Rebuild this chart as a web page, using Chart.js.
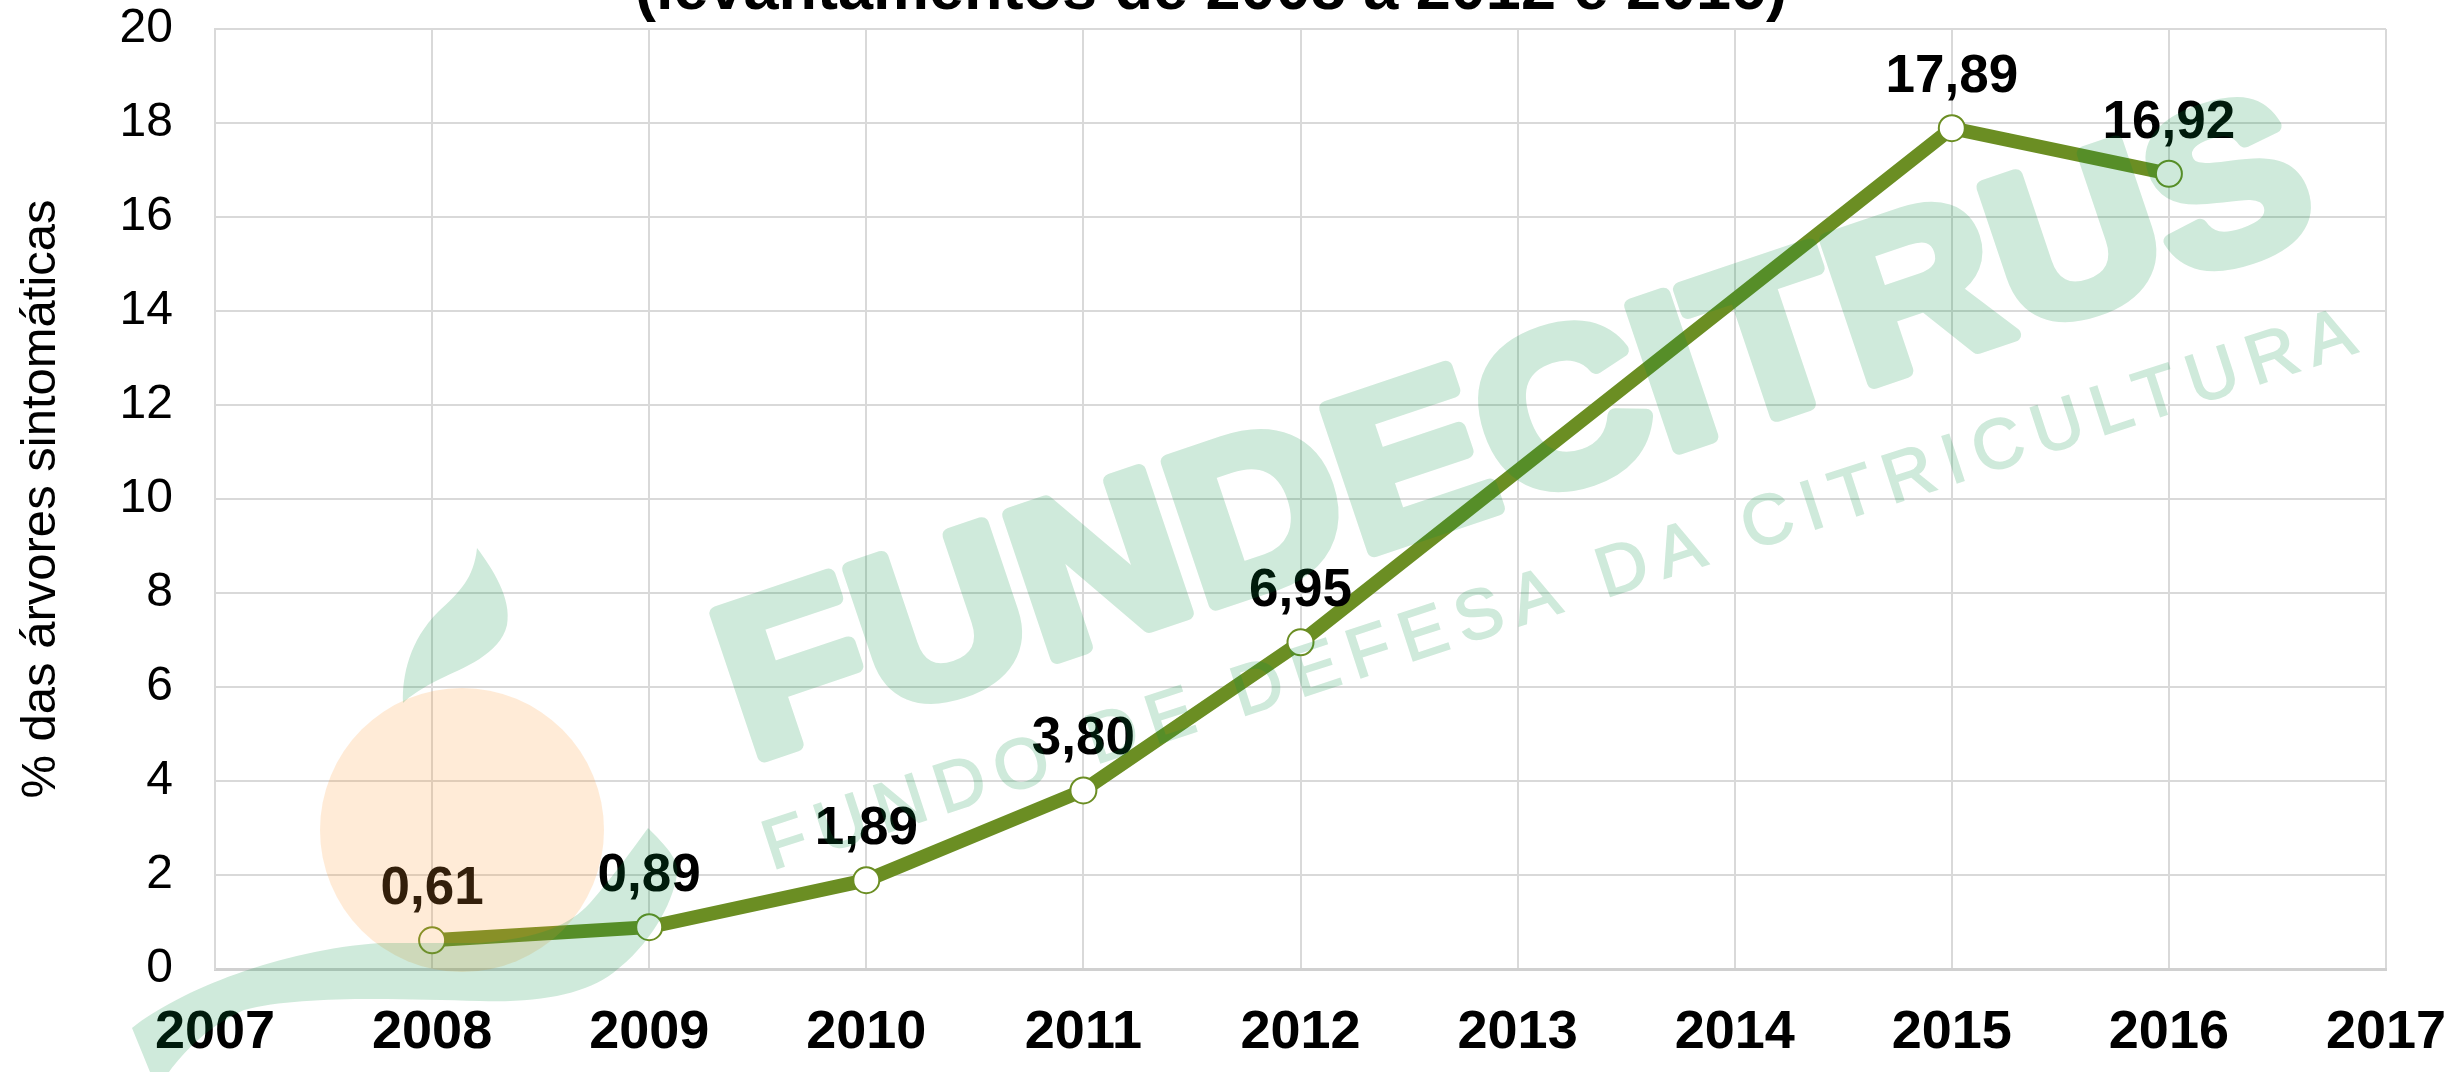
<!DOCTYPE html>
<html>
<head>
<meta charset="utf-8">
<script src="https://cdn.jsdelivr.net/npm/chart.js@4/dist/chart.umd.min.js"></script>
<style>
  html, body { margin: 0; padding: 0; background: #ffffff; }
  #wrap { width: 2458px; height: 1072px; position: relative; }
</style>
</head>
<body>
<div id="wrap"><canvas id="c" width="2458" height="1072"></canvas></div>
<script>
// ---- data ----
const years = ['2007', '2008', '2009', '2010', '2011', '2012', '2013', '2014', '2015', '2016', '2017'];
const symptomatic = [null, 0.61, 0.89, 1.89, 3.80, 6.95, null, null, 17.89, 16.92, null];
const yMin = 0;
const yMax = 20;
const yStep = 2;
const titleText = '(levantamentos de 2008 a 2012 e 2016)';
const yAxisTitle = '% das árvores sintomáticas';
const wmMain = 'FUNDECITRUS';
const wmSub = 'FUNDO DE DEFESA DA CITRICULTURA';

const FONT = '"Liberation Sans", Arial, sans-serif';

const valueLabels = {
  id: 'valueLabels',
  afterDatasetsDraw(chart) {
    const ctx = chart.ctx;
    const meta = chart.getDatasetMeta(0);
    const data = chart.data.datasets[0].data;
    ctx.save();
    ctx.font = 'bold 53px ' + FONT;
    ctx.fillStyle = '#000';
    ctx.textAlign = 'center';
    ctx.textBaseline = 'alphabetic';
    meta.data.forEach((pt, i) => {
      const v = data[i];
      if (v === null || v === undefined) return;
      ctx.fillText(v.toFixed(2).replace('.', ','), pt.x, pt.y - 36);
    });
    ctx.restore();
  }
};

function drawWatermarkShapes(g) {
  g.fillStyle = 'rgb(0,144,65)';
  g.strokeStyle = 'rgb(0,144,65)';
  // top leaf
  g.beginPath();
  g.moveTo(477, 548);
  g.bezierCurveTo(492, 568, 512, 598, 507, 625);
  g.bezierCurveTo(500, 655, 462, 668, 440, 679);
  g.bezierCurveTo(422, 688, 410, 696, 403, 703);
  g.bezierCurveTo(402, 675, 410, 640, 438, 612);
  g.bezierCurveTo(460, 592, 474, 578, 477, 548);
  g.closePath();
  g.fill();

  // bottom swoosh
  g.beginPath();
  g.moveTo(132, 1028);
  g.bezierCurveTo(180, 990, 280, 950, 380, 943);
  g.lineTo(480, 943);
  g.bezierCurveTo(540, 938, 570, 925, 590, 903);
  g.bezierCurveTo(612, 878, 632, 850, 648, 828);
  g.bezierCurveTo(665, 845, 680, 860, 677, 875);
  g.bezierCurveTo(672, 905, 650, 945, 613, 973);
  g.bezierCurveTo(585, 994, 540, 1003, 480, 1001);
  g.bezierCurveTo(400, 999, 300, 995, 244, 1010);
  g.bezierCurveTo(210, 1025, 185, 1050, 169, 1072);
  g.lineTo(150, 1072);
  g.closePath();
  g.fill();

  // big text
  g.save();
  g.translate(752, 766);
  g.rotate(-18.6 * Math.PI / 180);
  g.font = 'bold 218px ' + FONT;
  g.textAlign = 'left';
  g.textBaseline = 'alphabetic';
  const w = g.measureText(wmMain).width;
  g.scale(1660 / w, 1);
  g.lineJoin = 'round';
  g.lineWidth = 14;
  g.translate(0, -6);
  g.strokeText(wmMain, 0, 0);
  g.fillText(wmMain, 0, 0);
  g.restore();

  // sub text
  g.save();
  g.translate(772, 870);
  g.rotate(-18.1 * Math.PI / 180);
  g.font = '70px ' + FONT;
  g.textAlign = 'left';
  g.textBaseline = 'alphabetic';
  try { g.letterSpacing = '12px'; } catch (e) {}
  g.lineWidth = 2;
  g.strokeText(wmSub, 0, 0);
  g.fillText(wmSub, 0, 0);
  g.restore();
}

const titleAndWatermark = {
  id: 'titleAndWatermark',
  afterDraw(chart) {
    const ctx = chart.ctx;
    // title (cut at top)
    ctx.save();
    ctx.font = 'bold 63px ' + FONT;
    ctx.fillStyle = '#000';
    ctx.textAlign = 'center';
    ctx.textBaseline = 'alphabetic';
    ctx.fillText(titleText, 1211, 9);
    ctx.restore();

    // orange circle overlay
    ctx.save();
    ctx.fillStyle = 'rgba(255,153,56,0.2)';
    ctx.beginPath();
    ctx.arc(462, 830, 142, 0, Math.PI * 2);
    ctx.fill();
    ctx.restore();

    // green watermark overlay (opaque offscreen, composited with alpha)
    const off = document.createElement('canvas');
    off.width = chart.canvas.width;
    off.height = chart.canvas.height;
    drawWatermarkShapes(off.getContext('2d'));
    ctx.save();
    ctx.globalAlpha = 0.19;
    ctx.drawImage(off, 0, 0);
    ctx.restore();
  }
};

new Chart(document.getElementById('c'), {
  type: 'line',
  data: {
    labels: years,
    datasets: [{
      data: symptomatic,
      borderColor: '#6B8E23',
      borderWidth: 14,
      tension: 0,
      spanGaps: true,
      pointRadius: 13,
      pointHoverRadius: 13,
      pointBackgroundColor: '#ffffff',
      pointBorderColor: '#6B8E23',
      pointBorderWidth: 2,
      fill: false,
      clip: false
    }]
  },
  options: {
    responsive: false,
    animation: false,
    events: [],
    layout: { padding: { top: 29, right: 72, left: 0, bottom: 0 } },
    plugins: {
      legend: { display: false },
      title: { display: false },
      tooltip: { enabled: false }
    },
    scales: {
      x: {
        type: 'category',
        offset: false,
        grid: { color: '#d9d9d9', lineWidth: 2, drawTicks: false },
        border: { color: '#d0d0d0', width: 3 },
        ticks: {
          color: '#000',
          font: { family: FONT, size: 54, weight: 'bold' },
          padding: 32,
          maxRotation: 0,
          autoSkip: false
        },
        afterFit(scale) {
          scale.height = 103;
          scale.paddingLeft = 0;
          scale.paddingRight = 0;
        }
      },
      y: {
        min: yMin,
        max: yMax,
        grid: { color: '#d9d9d9', lineWidth: 2, drawTicks: false },
        border: { color: '#d9d9d9', width: 2 },
        ticks: {
          stepSize: yStep,
          color: '#000',
          font: { family: FONT, size: 48 },
          padding: 42
        },
        title: {
          display: true,
          text: yAxisTitle,
          color: '#000',
          font: { family: FONT, size: 49 },
          padding: { top: 12, bottom: 0 }
        },
        afterFit(scale) {
          scale.width = 215;
          scale.paddingTop = 0;
          scale.paddingBottom = 0;
        }
      }
    }
  },
  plugins: [valueLabels, titleAndWatermark]
});
</script>
</body>
</html>
